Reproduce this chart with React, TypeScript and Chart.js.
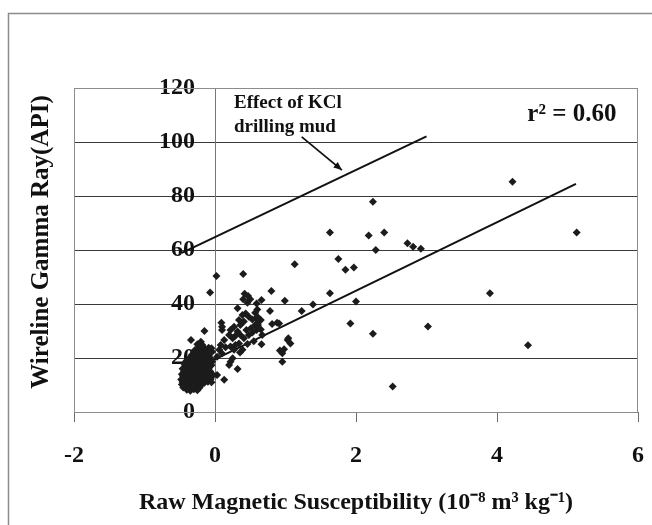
import React, { useEffect, useRef } from 'react';
import { Chart, registerables } from 'chart.js';

Chart.register(...registerables);

// ---------- data ----------
const X_MIN = -2;
const X_MAX = 6;
const X_STEP = 2;
const Y_MIN = 0;
const Y_MAX = 120;
const Y_STEP = 20;

// dense cluster near the origin
const clusterX = [
  -0.40, -0.35, -0.30, -0.25,
  -0.45, -0.38, -0.32, -0.27, -0.22,
  -0.47, -0.42, -0.36, -0.30, -0.24, -0.18,
  -0.46, -0.40, -0.34, -0.28, -0.21, -0.15, -0.10,
  -0.48, -0.43, -0.37, -0.31, -0.26, -0.19, -0.12, -0.06,
  -0.45, -0.39, -0.33, -0.27, -0.20, -0.14, -0.08,
  -0.47, -0.41, -0.35, -0.29, -0.23, -0.17, -0.11, -0.04,
  -0.44, -0.38, -0.32, -0.25, -0.19, -0.13, -0.07,
  -0.46, -0.40, -0.34, -0.28, -0.22, -0.16, -0.09,
  -0.42, -0.36, -0.30, -0.24, -0.18, -0.12, -0.05,
  -0.44, -0.38, -0.32, -0.26, -0.20, -0.14,
  -0.40, -0.34, -0.28, -0.22, -0.16, -0.10,
  -0.36, -0.30, -0.24, -0.18, -0.12, -0.06,
  -0.33, -0.27, -0.21, -0.15, -0.09,
  -0.30, -0.24, -0.18, -0.12, -0.04,
  -0.28, -0.20, -0.14,
  -0.22, -0.17, -0.09,
  -0.25, -0.19,
  -0.05, -0.08, -0.03,
];
const clusterY = [
  8.2, 7.9, 8.4, 8.1,
  9.1, 9.3, 8.9, 9.2, 9.0,
  10.2, 10.0, 10.3, 9.9, 10.1, 10.4,
  11.1, 10.9, 11.2, 11.0, 11.3, 10.8, 11.2,
  12.0, 12.2, 11.9, 12.1, 12.3, 11.8, 12.0, 12.2,
  13.1, 12.9, 13.2, 13.0, 12.8, 13.1, 13.3,
  14.0, 14.2, 13.9, 14.1, 14.3, 13.8, 14.0, 14.1,
  15.1, 14.9, 15.2, 15.0, 15.3, 14.8, 15.1,
  16.0, 16.2, 15.9, 16.1, 16.3, 15.8, 16.0,
  17.1, 16.9, 17.2, 17.0, 16.8, 17.1, 17.3,
  18.0, 18.2, 17.9, 18.1, 18.3, 17.8,
  19.1, 18.9, 19.2, 19.0, 18.8, 19.1,
  20.0, 20.2, 19.9, 20.1, 20.3, 19.8,
  21.1, 20.9, 21.2, 21.0, 20.8,
  22.0, 22.2, 21.9, 22.1, 22.3,
  23.1, 22.9, 23.2,
  24.0, 24.2, 23.8,
  25.1, 24.9,
  11.0, 13.0, 13.5,
];

// scattered samples
const scatterX = [
  4.22, 2.24, 1.63, 2.18, 2.40, 5.13, 2.28, 2.73, 2.81, 2.92,
  1.75, 1.85, 1.97, 1.63, 3.90, 1.39, 1.23, 2.00, 1.92, 2.24,
  3.02, 4.44, 2.52,
  0.02, -0.07, 0.40, 1.13, 0.80, 0.99, 0.66, 0.78, 0.42, 0.47,
  0.40, 0.46, 0.50, 0.59, 0.32, 0.60, 0.435, 0.39, 0.48, 0.34,
  0.41, 0.53, 0.59, 0.62, 0.57, 0.51, 0.445, 0.36, 0.32, 0.27,
  0.22, 0.20, 0.25, 0.29, 0.36, 0.41, 0.48, 0.53, 0.59, 0.65,
  0.67, 0.09, 0.10, 0.10, -0.15, -0.34, -0.20, -0.18, -0.22, -0.05,
  0.13, 0.08, 0.15, 0.06, 0.22, 0.29, 0.34, 0.46, 0.27, 0.39,
  0.355, 0.55, 0.66, 0.61, 0.65, 0.60, 0.57, 0.91, 0.81, 1.04,
  1.07, 1.03, 0.98, 0.955, 0.92, 0.955, 0.22, 0.20, 0.25, 0.32,
  0.13, 0.03, -0.06, -0.04, 0.03, 0.10, 0.88,
];
const scatterY = [
  85.3, 77.9, 66.5, 65.4, 66.5, 66.5, 60.0, 62.5, 61.2, 60.5,
  56.7, 52.7, 53.5, 44.0, 44.0, 39.8, 37.4, 40.9, 32.8, 29.0,
  31.7, 24.7, 9.4,
  50.4, 44.3, 51.1, 54.7, 44.8, 41.2, 41.5, 37.4, 43.8, 43.0,
  41.8, 40.5, 41.8, 40.2, 38.4, 38.0, 36.5, 35.9, 35.3, 34.1,
  33.5, 34.3, 34.7, 33.5, 32.2, 31.0, 30.4, 32.2, 29.8, 31.6,
  30.4, 28.5, 27.3, 28.2, 28.5, 27.3, 28.5, 29.4, 30.4, 30.6,
  28.5, 33.1, 31.6, 30.4, 30.0, 26.7, 26.0, 24.8, 24.0, 23.6,
  26.7, 24.8, 24.0, 23.1, 24.3, 24.8, 25.4, 25.2, 23.1, 23.1,
  22.0, 26.2, 25.1, 32.2, 34.1, 35.3, 36.8, 32.8, 32.6, 27.3,
  25.4, 26.7, 23.2, 21.8, 22.8, 18.6, 18.6, 17.4, 19.9, 15.9,
  11.9, 13.7, 17.4, 18.6, 20.5, 21.7, 33.1,
];

// regression line and KCl-shifted line (end points)
const fitX = [-0.5, 5.12];
const fitY = [13.2, 84.5];
const kclX = [-0.47, 3.0];
const kclY = [58.9, 102.1];

// annotations (data coordinates)
const noteLines = ['Effect of KCl', 'drilling mud'];
const noteX = 0.27;
const noteY = [114.4, 105.6];
const arrowFrom = [1.23, 101.9];
const arrowTo = [1.8, 89.6];
const r2Text = 'r\u00B2 = 0.60';
const r2X = 4.43;
const r2Y = 110;

const xTitle = 'Raw Magnetic Susceptibility (10\u207B\u2078 m\u00B3 kg\u207B\u00B9)';
const yTitle = 'Wireline Gamma Ray(API)';

// ---------- styling ----------
const FONT = "'Liberation Serif', 'Times New Roman', serif";
const INK = '#111111';
const FRAME = '#8c8c8c';
const LABEL_SHIFT = 20;

const decor = {
  id: 'decor',
  beforeDraw(chart: any) {
    const s: any = chart.scales.y;
    const items = s.getLabelItems();
    if (!items._shifted) {
      for (const it of items) it.options.translation[0] -= LABEL_SHIFT;
      items._shifted = true;
    }
  },
  afterDraw(chart: any) {
    const { ctx, chartArea: a, scales } = chart;
    const x = scales.x;
    const y = scales.y;
    ctx.save();
    // outer frame
    ctx.strokeStyle = FRAME;
    ctx.lineWidth = 1.5;
    ctx.beginPath();
    ctx.moveTo(8.5, chart.height + 5);
    ctx.lineTo(8.5, 13.5);
    ctx.lineTo(chart.width + 5, 13.5);
    ctx.stroke();
    // plot frame
    ctx.lineWidth = 1;
    ctx.strokeRect(a.left + 0.5, a.top + 0.5, a.right - a.left - 1, a.bottom - a.top);

    // y title
    ctx.fillStyle = INK;
    ctx.save();
    ctx.translate(a.left - 32, (a.top + a.bottom) / 2 - 8);
    ctx.rotate(-Math.PI / 2);
    ctx.font = `bold 25px ${FONT}`;
    ctx.textAlign = 'center';
    ctx.textBaseline = 'middle';
    ctx.fillText(yTitle, 0, 0);
    ctx.restore();

    // note text
    ctx.font = `bold 19px ${FONT}`;
    ctx.textAlign = 'left';
    ctx.textBaseline = 'middle';
    noteLines.forEach((t, i) => ctx.fillText(t, x.getPixelForValue(noteX), y.getPixelForValue(noteY[i])));

    // r2
    ctx.font = `bold 25px ${FONT}`;
    ctx.fillText(r2Text, x.getPixelForValue(r2X), y.getPixelForValue(r2Y));

    // arrow
    const x1 = x.getPixelForValue(arrowFrom[0]);
    const y1 = y.getPixelForValue(arrowFrom[1]);
    const x2 = x.getPixelForValue(arrowTo[0]);
    const y2 = y.getPixelForValue(arrowTo[1]);
    ctx.strokeStyle = INK;
    ctx.lineWidth = 1.8;
    ctx.beginPath();
    ctx.moveTo(x1, y1);
    ctx.lineTo(x2, y2);
    ctx.stroke();
    const ang = Math.atan2(y2 - y1, x2 - x1);
    const hl = 9;
    ctx.beginPath();
    ctx.moveTo(x2, y2);
    ctx.lineTo(x2 - hl * Math.cos(ang - 0.4), y2 - hl * Math.sin(ang - 0.4));
    ctx.lineTo(x2 - hl * Math.cos(ang + 0.4), y2 - hl * Math.sin(ang + 0.4));
    ctx.closePath();
    ctx.fillStyle = INK;
    ctx.fill();
    ctx.restore();
  },
};

export default function App() {
  const ref = useRef<HTMLCanvasElement | null>(null);

  useEffect(() => {
    document.body.style.margin = '0';
    const canvas = ref.current;
    if (!canvas) return;

    const points = [
      ...clusterX.map((v, i) => ({ x: v, y: clusterY[i] })),
      ...scatterX.map((v, i) => ({ x: v, y: scatterY[i] })),
    ];
    const fit = fitX.map((v, i) => ({ x: v, y: fitY[i] }));
    const kcl = kclX.map((v, i) => ({ x: v, y: kclY[i] }));

    const chart = new Chart(canvas, {
      type: 'scatter',
      data: {
        datasets: [
          {
            label: 'samples',
            data: points,
            pointStyle: 'rectRot',
            pointRadius: 4,
            pointBackgroundColor: '#1c1c1c',
            pointBorderWidth: 0,
            borderWidth: 0,
          },
          {
            label: 'fit',
            data: fit,
            showLine: true,
            pointRadius: 0,
            borderColor: INK,
            borderWidth: 2,
          },
          {
            label: 'kcl',
            data: kcl,
            showLine: true,
            pointRadius: 0,
            borderColor: INK,
            borderWidth: 2,
          },
        ],
      },
      options: {
        animation: false,
        responsive: false,
        events: [],
        layout: { padding: { left: 74, right: 14, top: 88, bottom: 0 } },
        plugins: {
          legend: { display: false },
          tooltip: { enabled: false },
        },
        scales: {
          x: {
            type: 'linear',
            min: X_MIN,
            max: X_MAX,
            ticks: {
              stepSize: X_STEP,
              color: INK,
              padding: 19,
              font: { family: FONT, size: 24, weight: 'bold' },
            },
            grid: {
              drawOnChartArea: false,
              drawTicks: true,
              tickLength: 10,
              color: '#6a6a6a',
            },
            border: { color: '#6a6a6a' },
            title: {
              display: true,
              text: xTitle,
              color: INK,
              font: { family: FONT, size: 24, weight: 'bold' },
              padding: { top: 18, bottom: 8 },
            },
            afterFit: (s: any) => {
              s.height = 113;
              s.paddingRight = 8;
            },
          },
          y: {
            type: 'linear',
            min: Y_MIN,
            max: Y_MAX,
            position: { x: 0 } as any,
            ticks: {
              stepSize: Y_STEP,
              color: INK,
              font: { family: FONT, size: 24, weight: 'bold' },
            },
            grid: {
              color: '#3a3a3a',
              tickLength: 8,
            },
            border: { color: '#777777' },
          },
        },
      },
      plugins: [decor],
    });

    return () => chart.destroy();
  }, []);

  return (
    <div style={{ width: 652, height: 525, position: 'relative' }}>
      <canvas ref={ref} width={652} height={525} style={{ display: 'block' }} />
    </div>
  );
}
